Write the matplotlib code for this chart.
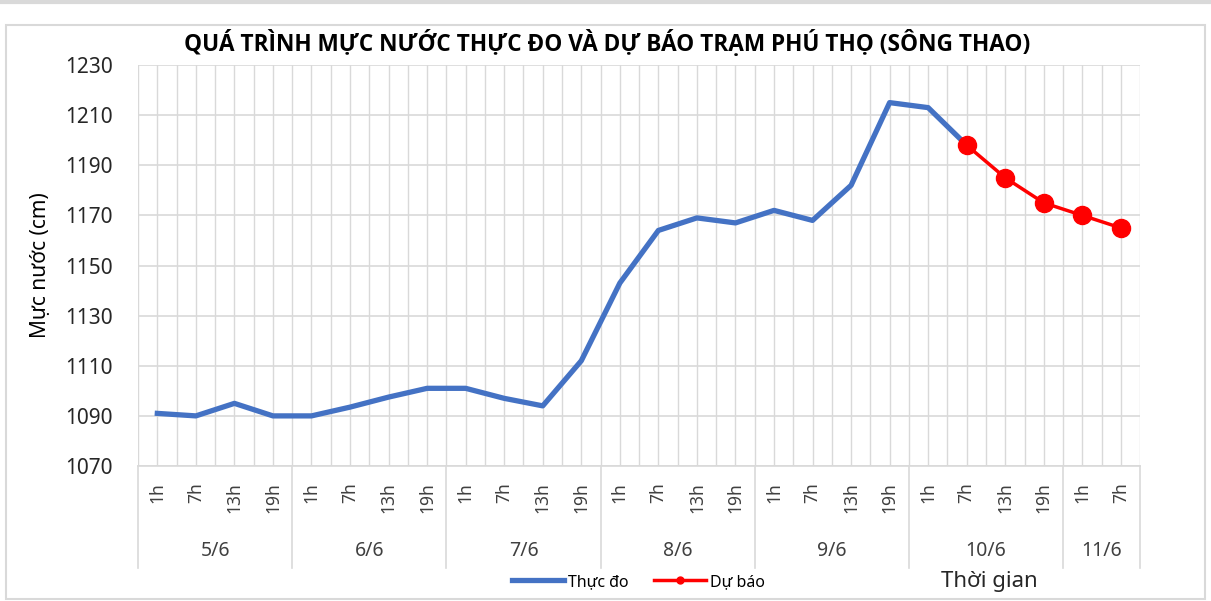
import matplotlib.pyplot as plt
from matplotlib.lines import Line2D
from matplotlib.patches import Rectangle
import matplotlib.transforms as mtransforms

plt.rcParams['font.family'] = ['Noto Sans', 'DejaVu Sans']

dates = ['5/6', '6/6', '7/6', '8/6', '9/6', '10/6', '11/6']
hours_per_day = [['1h', '7h', '13h', '19h']] * 6 + [['1h', '7h']]

# observed water level (cm), 5/6 1h -> 10/6 7h
observed = [1091, 1090, 1095, 1090,
            1090, 1093.5, 1097.5, 1101,
            1101, 1097, 1094, 1112,
            1143, 1164, 1169, 1167,
            1172, 1168, 1182, 1215,
            1213, 1198]
# forecast, 10/6 7h -> 11/6 7h
forecast = [1198, 1185, 1175, 1170, 1165]

hour_labels = [h for day in hours_per_day for h in day]
n = len(hour_labels)
x_obs = list(range(len(observed)))
x_fc = list(range(len(observed) - 1, len(observed) - 1 + len(forecast)))

grid_col = '#D9D9D9'

fig = plt.figure(figsize=(12.11, 6.01), dpi=100)
ax = fig.add_axes([0.114, 0.2246, 0.8275, 0.6672])

ax.plot(x_obs, observed, color='#4472C4', lw=3.8, solid_joinstyle='round', zorder=3)
ax.plot(x_fc, forecast, color='#FF0000', lw=2.5, marker='o', ms=13, zorder=4)

ax.set_xlim(-0.5, n - 0.5)
ax.set_ylim(1070, 1230)
ax.set_yticks(range(1070, 1231, 20))
ax.set_xticks(range(n))
ax.set_xticklabels(hour_labels, rotation=90, fontsize=12.5)
ax.set_xticks([i - 0.5 for i in range(n + 1)], minor=True)
ax.tick_params(axis='x', which='both', length=0, pad=12)
ax.tick_params(axis='y', length=0, pad=18, labelsize=15)
ax.grid(axis='y', color=grid_col, lw=1.2)
ax.grid(axis='x', which='minor', color=grid_col, lw=1.0)
ax.grid(axis='x', which='major', color=grid_col, lw=1.0)
for s in ['top', 'right', 'left']:
    ax.spines[s].set_visible(False)
ax.spines['bottom'].set_color(grid_col)
ax.spines['bottom'].set_linewidth(1.2)

# multi-level category axis: date group labels and separators
trans = mtransforms.blended_transform_factory(ax.transData, ax.transAxes)
start = 0
bounds = [-0.5]
for d, hrs in zip(dates, hours_per_day):
    mid = start + (len(hrs) - 1) / 2
    ax.text(mid, -0.212, d, transform=trans, ha='center', va='center', fontsize=14, color='#404040')
    start += len(hrs)
    bounds.append(start - 0.5)
for b in bounds:
    ax.plot([b, b], [0, -0.255], transform=trans, color=grid_col, lw=1.2, clip_on=False)

for lbl in ax.get_xticklabels():
    lbl.set_color('#404040')
for lbl in ax.get_yticklabels():
    lbl.set_color('#262626')

ax.set_ylabel('Mực nước (cm)', fontsize=15, labelpad=10)
fig.text(0.501, 0.928, 'QUÁ TRÌNH MỰC NƯỚC THỰC ĐO VÀ DỰ BÁO TRẠM PHÚ THỌ (SÔNG THAO)',
         ha='center', va='center', fontsize=16.3, fontweight='bold',
         family=['Open Sans', 'DejaVu Sans'])
fig.text(0.817, 0.032, 'Thời gian', ha='center', va='center', fontsize=16, color='#262626')

handles = [Line2D([], [], color='#4472C4', lw=3.8),
           Line2D([], [], color='#FF0000', lw=2.5, marker='o', ms=5)]
fig.legend(handles, ['Thực đo', 'Dự báo'], loc='center', bbox_to_anchor=(0.527, 0.032),
           ncol=2, frameon=False, fontsize=11.5, handlelength=3.3, handletextpad=0.2,
           columnspacing=1.6)

fig.add_artist(Rectangle((0.005, 0.003), 0.99, 0.955, transform=fig.transFigure,
                         fill=False, edgecolor='#D9D9D9', lw=1.5))
fig.add_artist(Line2D([0, 1], [0.997, 0.997], transform=fig.transFigure, color='#D9D9D9', lw=3))

fig.savefig('out.png', dpi=100)
